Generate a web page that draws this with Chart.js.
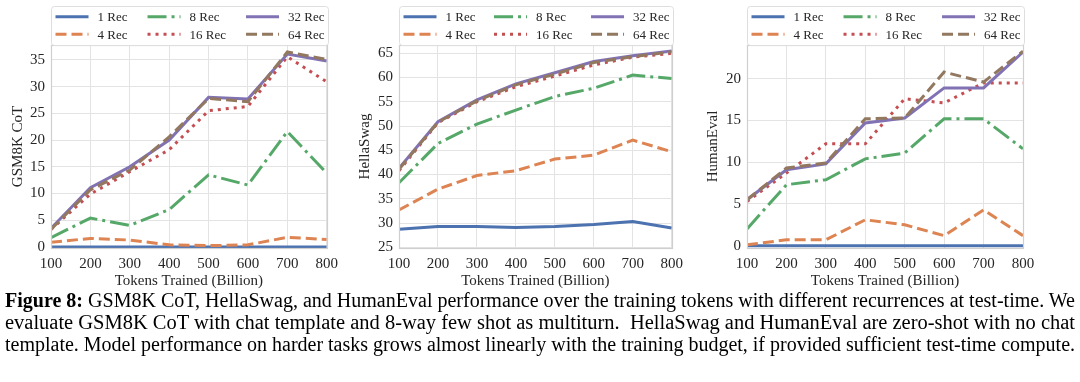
<!DOCTYPE html>
<html><head><meta charset="utf-8">
<script src="https://cdn.jsdelivr.net/npm/chart.js@4.4.1/dist/chart.umd.min.js"></script>
<style>
html,body{margin:0;padding:0;background:#fff;width:1080px;height:382px;overflow:hidden;position:relative;}
canvas{position:absolute;top:0;}
.cap{position:absolute;left:5px;font-family:"Liberation Serif","Times New Roman",serif;font-size:20px;color:#000;white-space:nowrap;transform-origin:0 0;line-height:22px;}
</style></head><body>
<canvas id="c1" width="345" height="292" style="left:0px"></canvas>
<canvas id="c2" width="335" height="292" style="left:355px"></canvas>
<canvas id="c3" width="380" height="292" style="left:700px"></canvas>
<div class="cap" id="l1" style="top:289px"><b>Figure 8:</b> GSM8K CoT, HellaSwag, and HumanEval performance over the training tokens with different recurrences at test-time. We</div>
<div class="cap" id="l2" style="top:311px">evaluate GSM8K CoT with chat template and 8-way few shot as multiturn.&nbsp; HellaSwag and HumanEval are zero-shot with no chat</div>
<div class="cap" id="l3" style="top:333px">template. Model performance on harder tasks grows almost linearly with the training budget, if provided sufficient test-time compute.</div>
<script>
// ---- data ----
const tokens = [100, 200, 300, 400, 500, 600, 700, 800];
const seriesNames = ['1 Rec', '4 Rec', '8 Rec', '16 Rec', '32 Rec', '64 Rec'];

const gsm1  = [0, 0, 0, 0, 0, 0, 0, 0];
const gsm4  = [0.9, 1.6, 1.3, 0.4, 0.25, 0.4, 1.8, 1.4];
const gsm8  = [1.75, 5.4, 4.05, 7.0, 13.5, 11.6, 21.6, 13.8];
const gsm16 = [3.3, 9.9, 14.1, 18.2, 25.5, 26.3, 35.6, 30.9];
const gsm32 = [3.5, 11.1, 15.0, 20.0, 28.0, 27.7, 36.1, 34.8];
const gsm64 = [3.3, 10.7, 14.4, 20.6, 27.8, 27.2, 36.5, 35.1];

const hella1  = [28.7, 29.3, 29.3, 29.1, 29.3, 29.7, 30.3, 29.0];
const hella4  = [32.7, 37.0, 39.8, 40.8, 43.2, 44.0, 47.1, 44.7];
const hella8  = [38.3, 46.4, 50.4, 53.3, 56.1, 57.8, 60.5, 59.8];
const hella16 = [40.8, 50.7, 55.0, 58.1, 60.3, 62.6, 64.2, 65.0];
const hella32 = [41.3, 50.9, 55.4, 58.7, 61.0, 63.3, 64.5, 65.5];
const hella64 = [41.1, 50.8, 55.2, 58.5, 60.7, 63.1, 64.3, 65.3];

const he1  = [0, 0, 0, 0, 0, 0, 0, 0];
const he4  = [0.1, 0.7, 0.7, 3.1, 2.5, 1.2, 4.3, 1.2];
const he8  = [2.0, 7.3, 7.9, 10.4, 11.1, 15.2, 15.2, 11.6];
const he16 = [5.3, 8.7, 12.2, 12.2, 17.6, 17.1, 19.5, 19.5];
const he32 = [5.5, 9.1, 9.8, 14.7, 15.3, 18.9, 18.9, 23.2];
const he64 = [5.5, 9.3, 9.9, 15.2, 15.3, 20.8, 19.6, 23.3];

const xTicks = [100, 200, 300, 400, 500, 600, 700, 800];

// ---- styles ----
const colors = ['#4C72B0', '#DD8452', '#55A868', '#C44E52', '#8172B3', '#937860'];
const dashes = [[], [11, 5], [19, 5, 3, 5], [3, 5], [], [11, 5]];
const FONT = '"Liberation Serif", "Times New Roman", serif';
const TXT = '#262626';

const decoPlugin = {
  id: 'deco',
  afterDatasetsDraw(chart) {
    const a = chart.chartArea, ctx = chart.ctx;
    ctx.save();
    ctx.strokeStyle = '#cfcfcf';
    ctx.lineWidth = 1.2;
    ctx.strokeRect(Math.round(a.left) + 0.5, Math.round(a.top) + 0.5, Math.round(a.right - a.left), Math.round(a.bottom - a.top));
    ctx.restore();
  },
  afterDraw(chart) {
    const a = chart.chartArea, ctx = chart.ctx;
    const ds = chart.data.datasets;
    const L = Math.round(a.left) + 0.5, R = Math.round(a.right) + 1.5, T = 6.5, B = 45.5, r = 3;
    ctx.save();
    ctx.beginPath();
    ctx.moveTo(L + r, T); ctx.lineTo(R - r, T); ctx.quadraticCurveTo(R, T, R, T + r);
    ctx.lineTo(R, B - r); ctx.quadraticCurveTo(R, B, R - r, B);
    ctx.lineTo(L + r, B); ctx.quadraticCurveTo(L, B, L, B - r);
    ctx.lineTo(L, T + r); ctx.quadraticCurveTo(L, T, L + r, T);
    ctx.closePath();
    ctx.fillStyle = 'rgba(255,255,255,0.9)';
    ctx.fill();
    ctx.strokeStyle = '#dedede';
    ctx.lineWidth = 1;
    ctx.stroke();
    ctx.font = '13px ' + FONT;
    const cols = [[0, 1], [2, 3], [4, 5]];
    const handle = 33, gap = 9, pad = 4;
    const widths = cols.map(c => handle + gap + Math.max(...c.map(i => ctx.measureText(ds[i].label).width)));
    const total = widths.reduce((s, w) => s + w, 0);
    const space = ((R - L) - 2 * pad - total) / 2;
    const rows = [16.7, 34.3];
    let x = L + pad;
    cols.forEach((c, ci) => {
      c.forEach((i, ri) => {
        const y = rows[ri];
        ctx.strokeStyle = ds[i].borderColor;
        ctx.lineWidth = 3;
        ctx.lineCap = 'butt';
        ctx.setLineDash(ds[i].borderDash || []);
        ctx.beginPath(); ctx.moveTo(x, y); ctx.lineTo(x + handle, y); ctx.stroke();
        ctx.setLineDash([]);
        ctx.fillStyle = TXT;
        ctx.textBaseline = 'middle';
        ctx.textAlign = 'left';
        ctx.fillText(ds[i].label, x + handle + gap, y + 1);
      });
      x += widths[ci] + space;
    });
    ctx.restore();
  }
};

function makeChart(id, series, yTitle, yMin, yMax, yWidth, titlePad, padRight) {
  const datasets = series.map((vals, i) => ({
    label: seriesNames[i],
    data: tokens.map((t, k) => ({ x: t, y: vals[k] })),
    borderColor: colors[i],
    backgroundColor: colors[i],
    borderDash: dashes[i],
    borderWidth: 3,
    pointRadius: 0,
    tension: 0,
    fill: false,
    order: series.length - i
  }));
  return new Chart(document.getElementById(id), {
    type: 'line',
    data: { datasets },
    plugins: [decoPlugin],
    options: {
      responsive: false,
      maintainAspectRatio: false,
      animation: false,
      layout: { padding: { top: 45, left: 0, right: padRight, bottom: 0 } },
      plugins: { legend: { display: false }, tooltip: { enabled: false } },
      scales: {
        x: {
          type: 'linear', min: 100, max: 800,
          afterBuildTicks: s => { s.ticks = xTicks.map(v => ({ value: v })); },
          afterFit: s => { s.height = 44; },
          grid: { color: '#e3e3e3', lineWidth: 1, drawTicks: false },
          border: { display: false },
          ticks: { padding: 7, color: TXT, font: { family: FONT, size: 15 }, maxRotation: 0 },
          title: { display: true, text: 'Tokens Trained (Billion)', color: TXT, font: { family: FONT, size: 15 }, padding: { top: 0, bottom: 2 } }
        },
        y: {
          type: 'linear', min: yMin, max: yMax,
          afterFit: s => { s.width = yWidth; },
          grid: { color: '#e3e3e3', lineWidth: 1, drawTicks: false },
          border: { display: false },
          ticks: { stepSize: 5, includeBounds: false, padding: 6, color: TXT, font: { family: FONT, size: 15 } },
          title: { display: true, text: yTitle, color: TXT, font: { family: FONT, size: 15 }, padding: { top: titlePad, bottom: 0 } }
        }
      }
    }
  });
}

function build() {
  makeChart('c1', [gsm1, gsm4, gsm8, gsm16, gsm32, gsm64], 'GSM8K CoT', -0.19, 37.8, 51, 9, 15);
  makeChart('c2', [hella1, hella4, hella8, hella16, hella32, hella64], 'HellaSwag', 24.86, 66.71, 44, 1, 13);
  makeChart('c3', [he1, he4, he8, he16, he32, he64], 'HumanEval', -0.28, 24.04, 47, 4, 57);
  ['l1', 'l2', 'l3'].forEach(id => {
    const el = document.getElementById(id);
    el.style.transform = 'none';
    const w = el.getBoundingClientRect().width;
    el.style.transform = 'scaleX(' + (1070 / w) + ')';
  });
}

Promise.all([
  document.fonts.load('15px "Liberation Serif"'),
  document.fonts.load('bold 20px "Liberation Serif"')
]).then(build, build);
</script>
</body></html>
